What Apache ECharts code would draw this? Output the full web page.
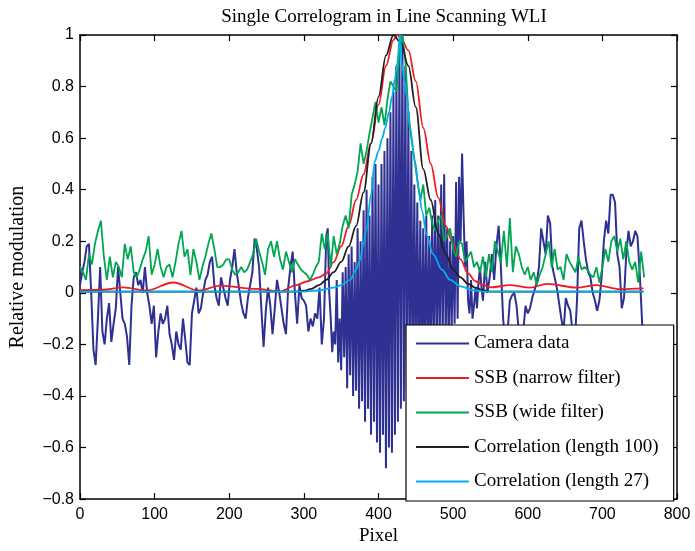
<!DOCTYPE html>
<html><head><meta charset="utf-8">
<script src="https://cdn.jsdelivr.net/npm/echarts@6/dist/echarts.min.js"></script>
<style>html,body{margin:0;padding:0;background:#fff}#c{width:695px;height:551px}</style>
</head><body><div id="c"></div>
<script>
// ---- data ----
// camera data, part 1: pixels 0..327 every 3 px
const cameraStartStep = 3;
const cameraStart = [
 0.03,0.08,0.12,0.18,0.19,0.0,-0.22,-0.28,-0.1,0.1,-0.15,-0.2,-0.1,-0.04,-0.19,-0.12,-0.06,0.1,0.0,-0.1,
 -0.12,-0.17,-0.28,-0.05,0.06,0.08,0.03,0.05,0.0,0.1,0.0,-0.05,-0.12,-0.05,-0.25,-0.15,-0.08,-0.12,-0.1,-0.05,
 -0.16,-0.2,-0.26,-0.15,-0.2,-0.22,-0.1,-0.18,-0.27,-0.28,-0.08,-0.03,0.02,-0.08,-0.06,0.0,0.05,0.07,0.12,0.14,
 0.03,-0.02,-0.05,0.06,0.02,-0.02,-0.05,0.05,0.1,0.17,0.08,0.02,-0.04,-0.08,-0.1,-0.02,0.03,0.08,0.21,0.17,
 0.1,-0.06,-0.21,-0.07,0.02,-0.05,-0.16,-0.06,0.05,0.0,-0.06,-0.12,-0.16,0.02,0.1,0.16,0.0,-0.12,0.03,-0.02,
 -0.03,-0.05,-0.15,-0.1,-0.13,-0.08,-0.1,0.02,-0.2,-0.1
];
// camera data, part 2 (fringe packet): pixels 330..540 every 2 px
const cameraFringeFrom = 330, cameraFringeStep = 2;
const cameraFringe = [
 0.22,0.25,0.0,-0.1,-0.23,-0.15,-0.2,0.05,-0.27,-0.1,-0.3,0.08,-0.25,0.1,-0.37,
 0.15,-0.32,0.18,-0.4,0.12,-0.38,0.25,-0.45,0.2,-0.42,0.32,-0.5,0.4,-0.45,0.3,-0.55,0.45,-0.5,0.5,-0.58,
 0.42,-0.62,0.5,-0.55,0.55,-0.68,0.6,-0.6,0.7,-0.62,0.78,-0.55,0.88,-0.5,0.95,-0.45,1.0,-0.42,0.88,-0.38,
 0.7,-0.35,0.55,-0.35,0.42,-0.3,0.35,-0.3,0.28,-0.3,0.25,-0.28,0.3,-0.28,0.22,-0.25,0.3,-0.25,0.36,-0.22,
 0.3,-0.2,0.42,-0.2,0.46,-0.18,0.25,-0.2,0.2,-0.15,0.22,-0.12,0.43,-0.1,0.45,0.2,0.54,0.3,0.1,0.2,
 -0.03,-0.08,0.05,-0.1,-0.05,0.02,-0.06,0.04,0.1,0.02,-0.03
];
// camera data, part 3: pixels 543..756 every 3 px
const cameraEndFrom = 543, cameraEndStep = 3;
const cameraEnd = [
 0.12,0.0,0.06,0.15,0.05,0.18,0.26,0.1,-0.1,-0.2,-0.15,-0.03,-0.01,0.0,-0.05,-0.15,-0.2,-0.15,-0.05,
 -0.08,-0.06,-0.02,0.01,0.04,0.1,0.25,0.2,0.15,0.3,0.27,0.1,0.06,0.02,-0.04,-0.1,-0.15,-0.02,-0.05,-0.07,
 -0.15,-0.2,-0.03,0.25,0.28,0.2,0.13,0.08,0.06,0.0,-0.03,-0.07,-0.03,0.06,0.2,0.28,0.23,0.38,0.38,0.35,
 0.15,0.1,-0.06,-0.02,0.15,0.24,0.18,0.2,0.24,0.22,0.08,-0.1,-0.3
];
const wideStep = 4; // SSB wide filter: pixels 0,4,8,...
const ssbWide = [
 0.1,0.08,0.05,0.15,0.11,0.19,0.24,0.28,0.14,0.05,
 0.14,0.06,0.12,0.1,0.06,0.19,0.13,0.18,0.08,0.06,
 0.09,0.13,0.16,0.22,0.07,0.11,0.17,0.1,0.06,0.1,
 0.11,0.06,0.12,0.19,0.24,0.14,0.17,0.07,0.17,0.12,
 0.05,0.1,0.14,0.19,0.23,0.17,0.1,0.1,0.11,0.13,
 0.13,0.09,0.07,0.08,0.1,0.08,0.09,0.12,0.15,0.21,
 0.16,0.12,0.07,0.17,0.2,0.14,0.2,0.13,0.09,0.16,
 0.12,0.08,0.13,0.11,0.09,0.08,0.07,0.05,0.07,0.1,
 0.12,0.23,0.17,0.23,0.1,0.22,0.15,0.19,0.26,0.3,
 0.25,0.38,0.42,0.47,0.58,0.5,0.55,0.62,0.68,0.74,
 0.66,0.72,0.65,0.75,0.82,0.8,0.78,0.93,1.0,0.9,
 0.7,0.6,0.52,0.44,0.36,0.42,0.3,0.33,0.27,0.24,
 0.28,0.3,0.2,0.22,0.25,0.17,0.14,0.2,0.19,0.12,
 0.14,0.16,0.1,0.12,0.08,0.14,0.06,0.15,0.08,0.2,
 0.16,0.12,0.24,0.1,0.29,0.08,0.18,0.15,0.1,0.07,
 0.1,0.05,0.08,0.03,0.07,0.1,0.15,0.2,0.1,0.17,
 0.09,0.1,0.05,0.15,0.12,0.1,0.08,0.14,0.09,0.1,
 0.09,0.07,0.06,0.1,0.04,0.1,0.17,0.12,0.2,0.22,
 0.16,0.21,0.13,0.2,0.12,0.09,0.12,0.04,0.16,0.06
];
const narrowPx = [0,30,58,89,125,159,188,237,268,290,305,320,330,340,350,360,370,380,390,400,410,420,425,430,440,450,460,470,480,490,500,510,520,530,540,550,576,603,626,666,692,724,755];
const narrowVal = [0.01,0.012,0.021,0.009,0.04,0.009,0.028,0.015,0.005,0.03,0.045,0.06,0.075,0.12,0.18,0.26,0.36,0.46,0.58,0.73,0.88,0.98,1.0,0.99,0.94,0.82,0.64,0.5,0.37,0.26,0.19,0.13,0.075,0.045,0.03,0.021,0.03,0.02,0.035,0.02,0.03,0.014,0.017];
const corr100Px = [0,100,200,290,300,310,320,330,340,350,360,370,380,390,400,410,420,430,440,450,460,470,480,490,500,510,520,530,540,550,650,755];
const corr100Val = [0.005,0.005,0.005,0.005,0.008,0.015,0.03,0.05,0.08,0.12,0.18,0.26,0.39,0.58,0.76,0.92,1.0,0.97,0.88,0.72,0.48,0.36,0.23,0.15,0.09,0.06,0.035,0.02,0.01,0.005,0.005,0.005];
const corr27Px = [0,100,200,300,322,340,350,362,370,375,380,384,390,395,400,405,409,414,418,422,425,429,431,435,438,442,449,454,458,465,473,485,496,510,527,540,650,755];
const corr27Val = [0.005,0.005,0.005,0.005,0.01,0.02,0.03,0.05,0.09,0.125,0.19,0.25,0.38,0.51,0.55,0.6,0.64,0.7,0.76,0.83,0.89,1.0,0.89,0.82,0.76,0.64,0.51,0.4,0.32,0.22,0.15,0.09,0.05,0.025,0.01,0.005,0.005,0.005];
const seriesNames = ['Camera data','SSB (narrow filter)','SSB (wide filter)','Correlation (length 100)','Correlation (length 27)'];
const xTicks = {min:0, max:800, step:100};
const yTicks = {min:-0.8, max:1, step:0.2};

// ---- build ----
const stepPairs = (arr, step, from) => arr.map((v,i)=>[(from||0) + i*step, v]);
const zipPairs = (xs, ys) => xs.map((x,i)=>[x, ys[i]]);
const cameraPairs = stepPairs(cameraStart, cameraStartStep, 0)
  .concat(stepPairs(cameraFringe, cameraFringeStep, cameraFringeFrom))
  .concat(stepPairs(cameraEnd, cameraEndStep, cameraEndFrom));
const colors = ['#2E3192','#ED1C24','#00A651','#231F20','#00AEEF'];
const serif = 'Liberation Serif';
const sans = 'Liberation Sans';
const fmtY = v => { const r = Math.round(v*10)/10; return String(r).replace('-', '\u2212'); };

const chart = echarts.init(document.getElementById('c'), null, {renderer:'canvas'});
const lineBase = (name, data, color, smooth, w) => ({
  name, type:'line', data, showSymbol:false, symbol:'none', smooth: smooth ? 0.35 : false,
  smoothMonotone: smooth ? 'x' : undefined,
  lineStyle:{color, width:w || 1.8}, itemStyle:{color}, animation:false, xAxisIndex:0, yAxisIndex:0
});
const axisLine = {show:true, onZero:false, lineStyle:{color:'#000', width:1.5}};
const tick = {show:true, inside:true, length:6, lineStyle:{color:'#000', width:1.2}};
chart.setOption({
  animation:false,
  backgroundColor:'#fff',
  title:{text:'Single Correlogram in Line Scanning WLI', left:379, top:3, textAlign:'center',
    textStyle:{fontFamily:serif, fontSize:19, fontWeight:'normal', color:'#000'}},
  grid:{left:80, right:18, top:35, bottom:47, show:false},
  legend:{
    data:seriesNames, orient:'vertical', left:406, top:325,
    icon:'rect', itemWidth:53, itemHeight:2, itemGap:15.5,
    padding:[9,15,10,10], backgroundColor:'#fff', borderColor:'#000', borderWidth:1.2,
    textStyle:{fontFamily:serif, fontSize:19, color:'#000'}, z:10, selectedMode:false
  },
  xAxis:[
    {type:'value', min:xTicks.min, max:xTicks.max, interval:xTicks.step, position:'bottom',
     name:'Pixel', nameLocation:'middle', nameGap:27,
     nameTextStyle:{fontFamily:serif, fontSize:19, color:'#000'},
     axisLine, axisTick:tick,
     axisLabel:{fontFamily:sans, fontSize:16, color:'#000', margin:7}, splitLine:{show:false}},
    {type:'value', min:xTicks.min, max:xTicks.max, interval:xTicks.step, position:'top',
     axisLine, axisTick:tick, axisLabel:{show:false}, splitLine:{show:false}}
  ],
  yAxis:[
    {type:'value', min:yTicks.min, max:yTicks.max, interval:yTicks.step, position:'left',
     name:'Relative modulation', nameLocation:'middle', nameGap:52,
     nameTextStyle:{fontFamily:serif, fontSize:20, color:'#000'},
     axisLine, axisTick:tick,
     axisLabel:{fontFamily:sans, fontSize:16, color:'#000', margin:6, formatter:fmtY}, splitLine:{show:false}},
    {type:'value', min:yTicks.min, max:yTicks.max, interval:yTicks.step, position:'right',
     axisLine, axisTick:tick, axisLabel:{show:false}, splitLine:{show:false}}
  ],
  series:[
    lineBase(seriesNames[0], cameraPairs, colors[0], false, 2),
    lineBase(seriesNames[1], zipPairs(narrowPx, narrowVal), colors[1], true),
    lineBase(seriesNames[2], stepPairs(ssbWide, wideStep, 0), colors[2], false),
    lineBase(seriesNames[3], zipPairs(corr100Px, corr100Val), colors[3], true),
    lineBase(seriesNames[4], zipPairs(corr27Px, corr27Val), colors[4], true)
  ]
});
</script></body></html>
